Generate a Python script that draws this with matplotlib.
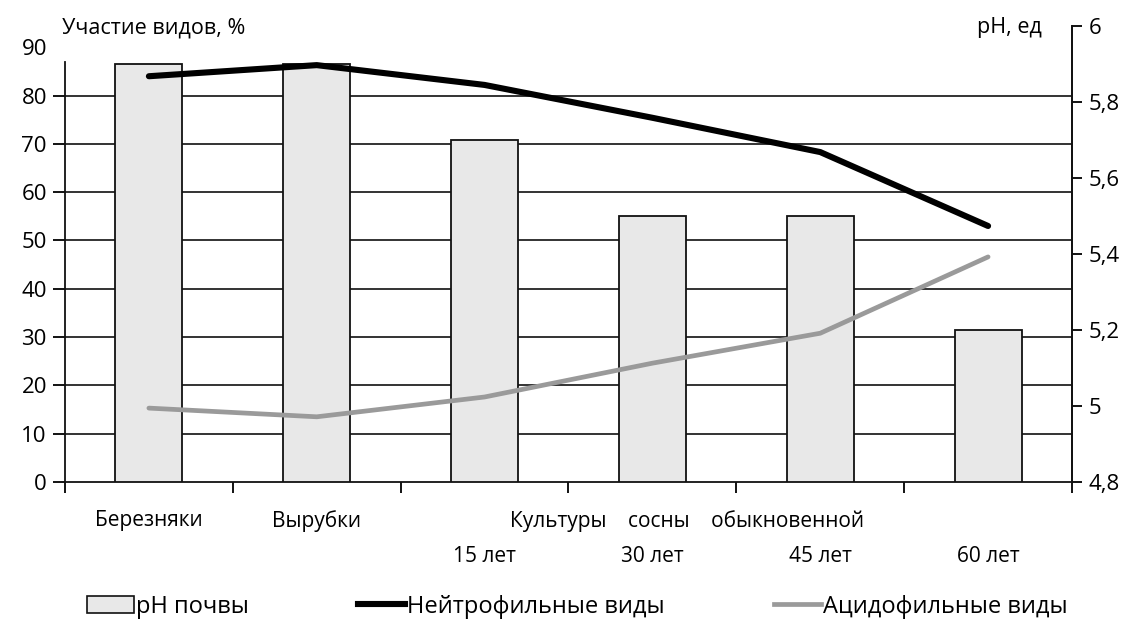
import matplotlib
matplotlib.use('Agg')
import matplotlib.pyplot as plt
import matplotlib.transforms as mtransforms
from matplotlib.lines import Line2D
from matplotlib.patches import Patch
import numpy as np

plt.rcParams['font.family'] = ['Open Sans', 'DejaVu Sans']

# data
categories = ['Березняки', 'Вырубки', '15 лет', '30 лет', '45 лет', '60 лет']
ph_soil = [5.9, 5.9, 5.7, 5.5, 5.5, 5.2]
neutrophil = [84.0, 86.3, 82.2, 75.4, 68.3, 53.0]
acidophil = [15.3, 13.5, 17.6, 24.6, 30.8, 46.6]
left_ticks = [0, 10, 20, 30, 40, 50, 60, 70, 80, 90]
right_ticks = [4.8, 5.0, 5.2, 5.4, 5.6, 5.8, 6.0]
right_labels = ['4,8', '5', '5,2', '5,4', '5,6', '5,8', '6']

x = np.arange(len(categories))
LTOP = 94.4
RLOW, RTOP = 4.8, 6.0

fig = plt.figure(figsize=(11.32, 6.19), dpi=100)
ax = fig.add_axes([0.0574, 0.2213, 0.8896, 0.7367])
ax2 = ax.twinx()

# bars on right (pH) axis
ax2.bar(x, [v - RLOW for v in ph_soil], bottom=RLOW, width=0.4,
        color='#e8e8e8', edgecolor='#111111', linewidth=1.3, zorder=2)
ax2.set_ylim(RLOW, RTOP)
ax2.set_yticks(right_ticks)
ax2.set_yticklabels(right_labels, fontsize=16)
ax2.tick_params(axis='y', direction='out', length=7, width=1.3, pad=5)

# gridlines on left axis
ax.set_ylim(0, LTOP)
ax.set_yticks(left_ticks)
ax.set_yticklabels([str(t) for t in left_ticks], fontsize=16)
ax.tick_params(axis='y', direction='out', length=9, width=1.3, pad=4)
for t in left_ticks[1:-1]:
    ax2.axhline(RLOW + t * (RTOP - RLOW) / LTOP, color='#111111', lw=1.2, zorder=1)
ax.yaxis.get_major_ticks()[-1].tick1line.set_visible(False)

ax.set_xlim(-0.5, len(categories) - 0.5)
ax.set_xticks(np.arange(len(categories) + 1) - 0.5)
ax.set_xticklabels([])
ax.tick_params(axis='x', direction='out', length=8, width=1.3)

for a in (ax, ax2):
    a.spines['top'].set_visible(False)
    for s in ('left', 'right', 'bottom'):
        a.spines[s].set_linewidth(1.3)
        a.spines[s].set_color('#111111')
ax.spines['left'].set_bounds(0, 87)
ax2.spines['left'].set_visible(False)
ax2.spines['bottom'].set_visible(False)

# lines are drawn on a third axes on top, same scale as the left axis
ax3 = fig.add_axes(ax.get_position(), sharex=ax)
ax3.set_ylim(0, LTOP)
ax3.axis('off')
ax3.plot(x, neutrophil, color='black', lw=4.4, solid_capstyle='round',
         solid_joinstyle='round', zorder=5)
ax3.plot(x, acidophil, color='#9a9a9a', lw=3.4, solid_capstyle='round',
         solid_joinstyle='round', zorder=5)

# category labels
trans = mtransforms.blended_transform_factory(ax.transData, ax.transAxes)
for i, lab in enumerate(categories):
    ypos = -0.085 if i < 2 else -0.163
    ax.text(x[i], ypos, lab, transform=trans, ha='center', va='center', fontsize=15)
ax.text(2.15, -0.085, 'Культуры    сосны    обыкновенной', transform=trans,
        ha='left', va='center', fontsize=15)

# axis titles
fig.text(0.055, 0.955, 'Участие видов, %', ha='left', va='center', fontsize=15.5)
fig.text(0.92, 0.955, 'pH, ед', ha='right', va='center', fontsize=15.5)

handles = [Patch(facecolor='#e8e8e8', edgecolor='#111111', linewidth=1.2),
           Line2D([0], [0], color='black', lw=4.4),
           Line2D([0], [0], color='#9a9a9a', lw=3.4)]
fig.legend(handles, ['pH почвы', 'Нейтрофильные виды', 'Ацидофильные виды'],
           loc='center', bbox_to_anchor=(0.51, 0.02), ncol=3, frameon=False,
           fontsize=17, handlelength=2.0, handletextpad=0.1, columnspacing=4.6)

fig.savefig('out.png', dpi=100)
